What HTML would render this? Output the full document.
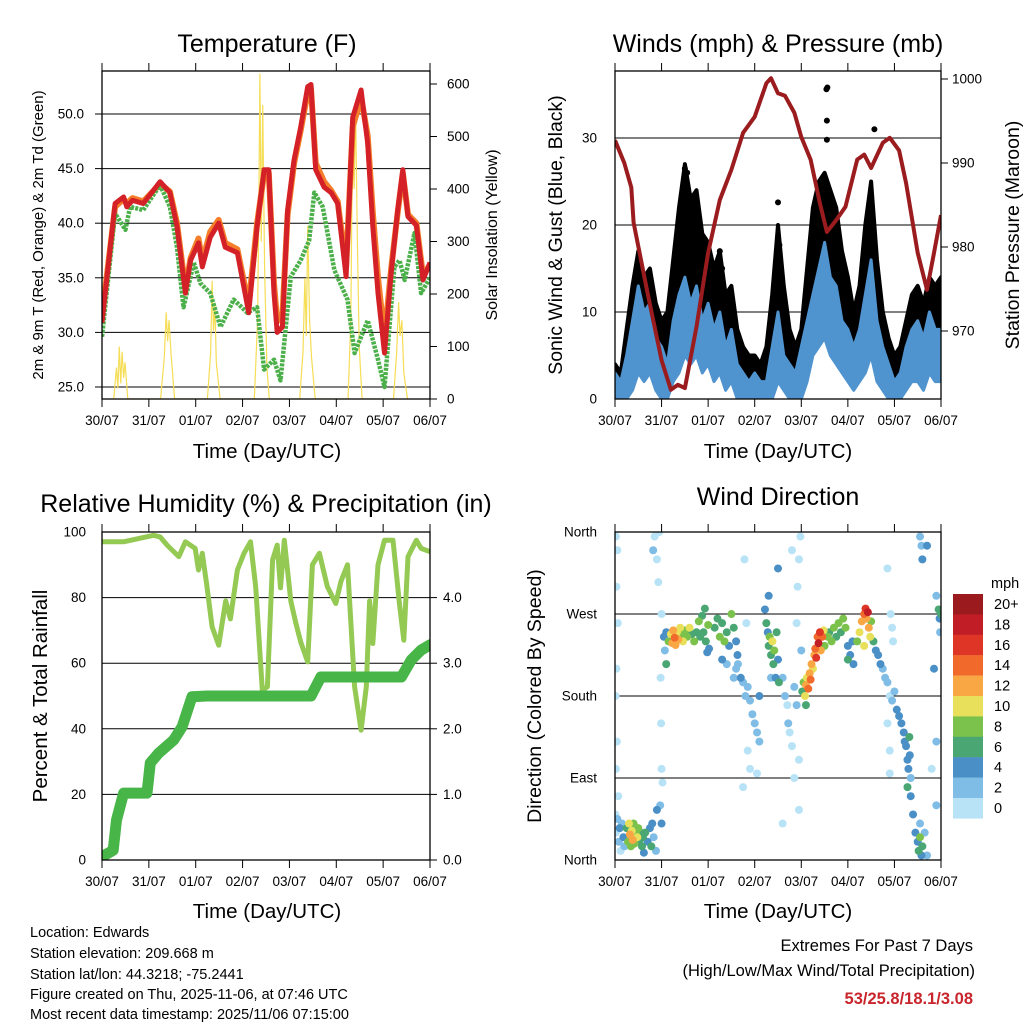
<!DOCTYPE html>
<html><head><meta charset="utf-8"><style>
html,body{margin:0;padding:0;background:#fff;}
svg{display:block;font-family:"Liberation Sans",Arial,sans-serif;}
</style></head><body>
<svg id="c" width="1024" height="1024" viewBox="0 0 1024 1024" xmlns="http://www.w3.org/2000/svg">
<defs>
<clipPath id="cp1"><rect x="102" y="71" width="328" height="328"/></clipPath>
<clipPath id="cp2"><rect x="615" y="71" width="326" height="328"/></clipPath>
<clipPath id="cp3"><rect x="102" y="532" width="328" height="328"/></clipPath>
<clipPath id="cp4"><rect x="615" y="532" width="326" height="328"/></clipPath>
</defs>
<g id="g1"></g>
<g id="g2"></g>
<g id="g3"></g>
<g id="g4"></g>
<g font-size="25" text-anchor="middle" fill="#000">
<text x="267" y="52">Temperature (F)</text>
<text x="778" y="52">Winds (mph) &amp; Pressure (mb)</text>
<text x="266" y="512">Relative Humidity (%) &amp; Precipitation (in)</text>
<text x="778" y="505">Wind Direction</text>
</g>
<g font-size="20.5" text-anchor="middle">
<text x="267" y="458">Time (Day/UTC)</text>
<text x="778" y="458">Time (Day/UTC)</text>
<text x="267" y="918">Time (Day/UTC)</text>
<text x="778" y="918">Time (Day/UTC)</text>
<text transform="translate(43,235) rotate(-90)" font-size="15">2m &amp; 9m T (Red, Orange) &amp; 2m Td (Green)</text>
<text transform="translate(497,235) rotate(-90)" font-size="16">Solar Insolation (Yellow)</text>
<text transform="translate(562,235) rotate(-90)" font-size="19.5">Sonic Wind &amp; Gust (Blue, Black)</text>
<text transform="translate(1019,235) rotate(-90)" font-size="19.5">Station Pressure (Maroon)</text>
<text transform="translate(47,696) rotate(-90)" font-size="20.5">Percent &amp; Total Rainfall</text>
<text transform="translate(541,696) rotate(-90)" font-size="19.5">Direction (Colored By Speed)</text>
</g>
<g font-size="14.5" fill="#000">
<text x="30" y="937">Location: Edwards</text>
<text x="30" y="958">Station elevation: 209.668 m</text>
<text x="30" y="979">Station lat/lon: 44.3218; -75.2441</text>
<text x="30" y="999">Figure created on Thu, 2025-11-06, at 07:46 UTC</text>
<text x="30" y="1019">Most recent data timestamp: 2025/11/06 07:15:00</text>
</g>
<g font-size="16.5" text-anchor="end">
<text x="973" y="951">Extremes For Past 7 Days</text>
<text x="975" y="976">(High/Low/Max Wind/Total Precipitation)</text>
<text x="973" y="1004" font-weight="bold" fill="#c9252c">53/25.8/18.1/3.08</text>
</g>
</svg>
<script>
// ---------- data ----------
const dayLabels=["30/07","31/07","01/07","02/07","03/07","04/07","05/07","06/07"];
const tempTimes=[0,0.28,0.46,0.53,0.65,0.88,1.24,1.45,1.6,1.78,1.89,2.06,2.14,2.31,2.49,2.63,2.89,3.13,3.31,3.46,3.56,3.67,3.74,3.85,3.96,4.1,4.24,4.39,4.46,4.56,4.74,4.89,5.03,5.21,5.35,5.53,5.67,5.78,5.89,6.03,6.17,6.31,6.42,6.53,6.71,6.85,7.0];
const tempVals=[30.9,41.8,42.4,41.5,42.1,41.8,43.8,42.8,39.7,33.6,36.6,38.2,36,38.7,40,37.8,37.3,31.8,39.7,44.9,44.9,33.6,30,30.5,41.2,45.8,48.8,52.5,52.7,44.9,43.3,42.8,41.8,35.1,49.7,52.2,47.3,39.7,33.6,28.1,35.4,41.2,44.9,40.6,39.8,34.8,36.4];
const temp9Vals=[31.5,41.5,42.2,41.8,42.3,42,43.6,42.9,40,34,36.8,38.6,36.5,39.2,40.3,38.2,37.6,32.5,40,44.5,44.6,34.5,31,31.5,40.8,45.5,48.5,52,52.3,45.5,43.8,43,42,36,48.8,51.5,48,41,35,29.5,35.8,41,44.6,40.8,40,35.2,36.2];
const dewTimes=[0,0.28,0.5,0.6,0.88,1.24,1.45,1.6,1.74,1.96,2.1,2.31,2.53,2.81,3.1,3.31,3.46,3.67,3.81,4.03,4.24,4.42,4.53,4.71,4.96,5.24,5.39,5.67,5.89,6.03,6.24,6.35,6.46,6.67,6.81,7.0];
const dewVals=[29.6,40.9,39.4,41.5,41.2,43.5,41.5,37.8,32.3,36.4,34.5,33.6,30.5,33,31.8,32.3,26.6,27.5,25.6,35.1,36.6,38.4,42.8,41.5,35.7,33,28.1,31.1,27.5,25,36,36.6,34.8,39.1,33.6,35];
const solarTimes=[0.25,0.31,0.34,0.37,0.4,0.43,0.46,0.49,0.55,1.25,1.33,1.37,1.4,1.43,1.47,1.55,2.25,2.32,2.35,2.38,2.41,2.44,2.52,3.25,3.32,3.35,3.37,3.4,3.43,3.47,3.52,3.57,4.22,4.29,4.33,4.36,4.39,4.43,4.47,4.55,5.25,5.31,5.35,5.38,5.41,5.45,5.49,5.55,6.22,6.29,6.33,6.36,6.4,6.44,6.52];
const solarVals=[0,60,20,100,30,90,40,70,0,0,80,165,110,150,90,0,0,90,225,130,180,70,0,0,150,400,620,300,560,250,60,0,0,90,230,120,330,150,80,0,0,150,540,400,560,300,100,0,0,90,185,120,150,50,0];

const windTimes=[0,0.125,0.25,0.375,0.5,0.625,0.75,0.875,1,1.125,1.25,1.375,1.5,1.625,1.75,1.875,2,2.125,2.25,2.375,2.5,2.625,2.75,2.875,3,3.125,3.25,3.375,3.5,3.625,3.75,3.875,4,4.125,4.25,4.375,4.5,4.625,4.75,4.875,5,5.125,5.25,5.375,5.5,5.625,5.75,5.875,6,6.125,6.25,6.375,6.5,6.625,6.75,6.875,7];
const windHi=[3,2,5,9,13,10,11,7,6,4,9,12,14,11,13,9,11,8,10,6,8,4,3,2,3,2,2,6,10,5,4,3,6,9,12,15,18,14,13,9,8,6,8,12,16,9,6,4,2,3,6,8,9,7,10,8,8];
const windLo=[0,0,0,1,3,2,3,1,0,0,2,3,5,4,5,3,4,2,3,1,2,0,0,0,0,0,0,0,2,1,0,0,0,2,5,6,7,5,4,3,2,1,2,3,5,2,1,0,0,0,1,2,2,1,3,2,2];
const gustHi=[4,3,8,13,17,14,15,11,9,10,16,22,27,23,24,19,18,15,17,12,13,8,6,5,5,4,6,12,20,13,8,6,8,15,22,25,26,24,22,17,14,10,13,20,25,16,10,7,5,6,9,12,13,11,14,13,14];
const gustLo=[0,0,1,3,5,4,5,2,1,1,5,7,10,8,9,6,6,4,5,2,4,1,1,0,0,0,1,2,5,2,1,0,1,4,8,9,10,8,7,5,4,2,4,6,8,4,3,1,0,0,2,3,4,2,4,4,5];
const gustOutT=[3.5,3.53,4.54,4.56,4.55,4.55,5.57,1.5,1.55,2.25,2.3];
const gustOutV=[22.6,17.7,35.6,35.8,32,29.8,31,26.5,26,17,15];
const presTimes=[0,0.2,0.35,0.4,0.7,1.0,1.2,1.35,1.5,1.75,2.0,2.25,2.5,2.75,3.0,3.25,3.35,3.5,3.65,3.85,4.0,4.2,4.4,4.55,4.75,4.95,5.2,5.35,5.5,5.75,5.9,6.1,6.25,6.5,6.7,6.85,7.0];
const presVals=[992.7,990,987.1,982.9,974.5,966.5,963,963.6,963.2,970.5,979.3,985.6,989.2,993.6,995.5,999.5,1000.1,998.3,998,996,993.1,990.4,985.2,981.8,983.2,984.8,990.4,991,989.4,992.4,993,991.5,987.6,979.3,974.9,979.3,983.8];

const rhTimes=[0,0.46,1.1,1.24,1.39,1.64,1.78,1.99,2.06,2.14,2.24,2.35,2.49,2.64,2.74,2.89,3.03,3.17,3.28,3.42,3.53,3.64,3.74,3.81,3.89,4.03,4.14,4.24,4.39,4.49,4.64,4.81,4.99,5.1,5.24,5.39,5.53,5.64,5.71,5.78,5.89,6.03,6.21,6.35,6.44,6.53,6.71,6.81,7.0];
const rhVals=[97,97,99,98.5,96,92.5,97,95,88.4,93.5,83.3,71.1,65.5,79,73.5,88.4,93.5,97,83.3,51.8,52.8,91.5,96,83,97.5,79,72,66.5,60.4,90,93.5,83.3,78.2,85,90,52.8,39.6,52.8,79,66,90,97.5,97.5,78,67,92.5,97.5,95,94];
const rainTimes=[0,0.24,0.31,0.46,0.96,1.03,1.21,1.53,1.71,1.92,2.24,4.46,4.67,6.39,6.6,6.81,7.0];
const rainVals=[0.05,0.15,0.61,1.02,1.02,1.48,1.63,1.83,2.03,2.49,2.5,2.5,2.79,2.79,3.05,3.2,3.28];

// wind direction observations: [day, degrees, mph]
const dirObs=[[0.02,30,0],[0.05,45,2],[0.08,20,2],[0.1,35,4],[0.12,10,1],[0.15,40,3],[0.18,25,4],[0.2,15,2],[0.25,35,6],[0.28,20,8],[0.3,40,10],[0.32,28,12],[0.34,15,9],[0.36,32,10],[0.38,22,12],[0.4,40,8],[0.42,18,9],[0.45,30,8],[0.48,25,10],[0.5,35,8],[0.52,20,6],[0.55,30,7],[0.58,15,6],[0.6,25,6],[0.62,8,4],[0.65,30,6],[0.7,20,5],[0.75,35,4],[0.78,15,6],[0.8,40,4],[0.83,25,3],[0.88,10,2],[0.9,55,4],
[0.02,355,0],[0.05,340,0],[0.03,300,1],[0.06,260,0],[0.03,210,1],[0.01,180,0],[0.04,130,0],[0.02,100,1],[0.07,70,0],[0.01,50,1],
[0.82,340,2],[0.85,355,1],[0.95,360,0],[0.9,330,1],[0.93,305,0],[1.0,270,1],[0.98,200,0],[0.99,150,0],[1.0,100,0],[1.02,85,1],[0.97,60,2],[1.0,40,4],
[1.05,245,4],[1.07,230,3],[1.1,215,6],[1.1,250,4],[1.15,240,8],[1.2,248,10],[1.23,238,12],[1.25,252,13],[1.28,244,14],[1.3,236,12],[1.33,250,10],[1.36,242,13],[1.4,255,10],[1.43,247,8],[1.46,240,10],[1.5,252,9],[1.55,245,8],[1.6,255,10],[1.65,248,7],[1.7,240,8],[1.75,250,6],[1.8,262,8],[1.83,245,6],[1.87,268,6],[1.9,250,7],[1.95,240,6],[1.98,228,4],[2.0,258,8],[1.93,276,6],[2.02,232,4],
[2.14,255,6],[2.2,265,7],[2.25,245,8],[2.3,260,6],[2.35,240,8],[2.4,250,6],[2.45,235,4],[2.5,270,8],[2.55,255,6],[2.6,240,5],[2.63,225,4],[2.3,220,4],[2.4,215,3],[2.55,200,2],[2.6,210,3],
[2.64,215,2],[2.7,200,4],[2.75,195,2],[2.8,180,2],[2.85,190,3],[2.9,175,2],[2.95,160,2],[3.0,150,2],[3.05,140,2],[3.1,130,2],[3.1,180,4],[2.85,120,0],[2.9,100,0],[2.75,80,1],[3.05,95,1],[2.78,330,0],[2.82,260,1],
[3.22,275,4],[3.25,260,6],[3.28,250,4],[3.3,235,6],[3.32,245,8],[3.35,225,6],[3.38,240,10],[3.4,215,6],[3.42,230,8],[3.45,200,4],[3.47,250,6],[3.5,220,4],[3.52,195,6],[3.3,290,4],[3.35,200,2],
[3.6,200,2],[3.65,180,2],[3.7,170,0],[3.72,150,2],[3.75,140,0],[3.8,125,0],[3.85,190,2],[3.9,170,2],[3.95,110,0],[3.9,260,0],[3.92,300,0],[3.95,330,0],[3.98,355,0],[3.8,340,1],[3.85,90,0],[3.6,40,1],[3.95,55,0],[3.5,320,4],
[4.02,185,6],[4.05,195,8],[4.08,180,10],[4.1,192,12],[4.12,200,10],[4.15,188,14],[4.18,205,12],[4.2,198,14],[4.22,215,12],[4.25,210,10],[4.28,225,12],[4.3,232,14],[4.32,222,16],[4.35,245,14],[4.37,238,18],[4.4,250,16],[4.42,230,12],[4.45,245,14],[4.48,252,10],[4.5,235,8],[4.0,230,2],[4.1,170,6],
[4.57,245,8],[4.6,250,6],[4.65,240,8],[4.7,255,8],[4.75,245,6],[4.8,260,8],[4.85,250,6],[4.9,265,8],[4.95,255,8],[5.0,235,4],[5.05,225,4],[5.1,240,4],[5.12,215,4],[5.0,220,6],
[5.2,240,8],[5.25,250,10],[5.3,262,12],[5.35,270,14],[5.38,276,16],[5.4,265,12],[5.43,272,18],[5.45,255,12],[5.48,245,10],[5.5,262,8],[5.55,240,6],[5.35,235,10],
[5.6,230,4],[5.65,225,4],[5.7,215,4],[5.75,210,2],[5.8,200,2],[5.85,195,2],[5.9,180,0],[5.95,175,2],[6.0,185,2],[6.05,165,4],[6.1,158,4],[5.92,270,0],[5.95,255,1],[5.97,240,0],[5.85,150,0],[5.9,120,1],[5.85,320,0],[5.9,95,0],
[6.15,150,4],[6.2,140,4],[6.22,130,4],[6.25,125,4],[6.28,110,4],[6.3,100,4],[6.32,135,6],[6.35,90,2],[6.33,115,4],[6.28,80,6],
[6.35,70,4],[6.4,50,4],[6.45,30,4],[6.5,20,4],[6.52,10,6],[6.55,25,8],[6.58,5,4],[6.6,15,6],[6.55,40,2],[6.65,30,2],[6.7,5,2],
[6.55,355,2],[6.58,345,2],[6.6,330,4],[6.7,345,4],[6.9,290,2],[6.95,275,6],[6.97,265,4],[7.0,270,6],[6.98,250,2],[6.85,210,4],[6.9,130,2],[6.8,100,0],[6.9,60,2]];

const speedLabels=["20+","18","16","14","12","10","8","6","4","2","0"];
const speedColors=["#9a1a1e","#c11d26","#de3527","#f26a2b","#f9a745","#e8e05a","#7bc24c","#4aa673","#4a8fc6","#80bde6","#b8e3f7"];
const tempTicks=[25,30,35,40,45,50];
const solarTicks=[0,100,200,300,400,500,600];
const windTicks=[0,10,20,30];
const presTicks=[970,980,990,1000];
const rhTicks=[0,20,40,60,80,100];
const rainTicks=[0,1,2,3,4];
const dirTicks=[0,90,180,270,360];
const dirTickLabels=["North","East","South","West","North"];

// ---------- helpers ----------
const NS="http://www.w3.org/2000/svg";
function mk(parent,tag,attrs){const e=document.createElementNS(NS,tag);for(const k in attrs)e.setAttribute(k,attrs[k]);parent.appendChild(e);return e;}
const P={1:{x0:102,x1:430,y0:71,y1:399},2:{x0:615,x1:941,y0:71,y1:399},3:{x0:102,x1:430,y0:532,y1:860},4:{x0:615,x1:941,y0:532,y1:860}};
function xs(p){return d=>P[p].x0+d*(P[p].x1-P[p].x0)/7;}
const yTemp=v=>387-(v-25)*10.92, ySolar=v=>399-v*0.525;
const yWind=v=>399-v*8.7, yPres=v=>79+(1000-v)*8.4;
const yRH=v=>860-v*3.28, yRain=v=>860-v*65.6;
const yDir=v=>860-v*0.911;
function pts(ts,vs,fx,fy){return ts.map((t,i)=>fx(t).toFixed(1)+","+fy(vs[i]).toFixed(1)).join(" ");}
function speedColor(s){let i=10-Math.min(10,Math.floor(s/2));return speedColors[i];}

function frame(g,p,hTicks,fy,lab,labX,anchor){
  const b=P[p];
  hTicks.forEach((v,i)=>{
    const y=fy(v);
    const l=mk(g,"line",{x1:b.x0,x2:b.x1,y1:y,y2:y,stroke:"#000","stroke-width":1});
    
    
    const t=mk(g,"text",{x:labX,y:y+4.5,"font-size":13.5,"text-anchor":anchor});
    t.textContent=lab[i];
    
    
  });
}
function box(g,p){
  const b=P[p], fx=xs(p);
  const r=mk(g,"rect",{x:b.x0,y:b.y0,width:b.x1-b.x0,height:b.y1-b.y0,fill:"none",stroke:"#000","stroke-width":1.3});
  
  
  dayLabels.forEach((d,i)=>{
    const x=fx(i);
    mk(g,"line",{x1:x,x2:x,y1:b.y0,y2:b.y0-8,stroke:"#000"});
    mk(g,"line",{x1:x,x2:x,y1:b.y1,y2:b.y1+8,stroke:"#000"});
    const t=mk(g,"text",{x:x,y:b.y1+26,"font-size":13.5,"text-anchor":"middle"});
    t.textContent=d;
    
    
  });
}
function sideTicks(g,x,vals,fy,len){vals.forEach(v=>{mk(g,"line",{x1:x,x2:x+len,y1:fy(v),y2:fy(v),stroke:"#000"});});}

// ---------- panel 1 ----------
(function(){
  const g=document.getElementById("g1"), fx=xs(1);
  frame(g,1,tempTicks,yTemp,tempTicks.map(v=>v.toFixed(1)),84,"end");
  solarTicks.forEach(v=>{const t=mk(g,"text",{x:447,y:ySolar(v)+4.5,"font-size":13.5});t.textContent=v;});
  sideTicks(g,430,solarTicks,ySolar,7);
  sideTicks(g,102,tempTicks,yTemp,-7);
  const c=mk(g,"g",{"clip-path":"url(#cp1)"});
  const s=mk(c,"polyline",{points:pts(solarTimes,solarVals,fx,ySolar),fill:"none",stroke:"#f5dd55","stroke-width":1.2});
  
  const o=mk(c,"polyline",{points:pts(tempTimes,temp9Vals,fx,yTemp),fill:"none",stroke:"#f47e2a","stroke-width":6,"stroke-linejoin":"round"});
  
  const d=mk(c,"polyline",{points:pts(dewTimes,dewVals,fx,yTemp),fill:"none",stroke:"#4cb04a","stroke-width":4.5,"stroke-dasharray":"3 1.2","stroke-linejoin":"round"});
  
  const r=mk(c,"polyline",{points:pts(tempTimes,tempVals,fx,yTemp),fill:"none",stroke:"#d42027","stroke-width":5,"stroke-linejoin":"round"});
  
  box(g,1);
})();

// ---------- panel 2 ----------
(function(){
  const g=document.getElementById("g2"), fx=xs(2);
  frame(g,2,windTicks,yWind,windTicks.map(String),597,"end");
  presTicks.forEach(v=>{const t=mk(g,"text",{x:952,y:yPres(v)+4.5,"font-size":13.5});t.textContent=v;});
  sideTicks(g,941,presTicks,yPres,7);
  const c=mk(g,"g",{"clip-path":"url(#cp2)"});
  const gp=pts(windTimes,gustHi,fx,yWind)+" "+pts(windTimes.slice().reverse(),gustLo.slice().reverse(),fx,yWind);
  const gb=mk(c,"polygon",{points:gp,fill:"#000",stroke:"#000","stroke-width":4,"stroke-linejoin":"round"});
  
  gustOutT.forEach((t,i)=>{const e=mk(c,"circle",{cx:fx(t),cy:yWind(gustOutV[i]),r:3,fill:"#000"});});
  const wp=pts(windTimes,windHi,fx,yWind)+" "+pts(windTimes.slice().reverse(),windLo.slice().reverse(),fx,yWind);
  const wb=mk(c,"polygon",{points:wp,fill:"#4f93cf",stroke:"#4f93cf","stroke-width":3,"stroke-linejoin":"round"});
  
  const p=mk(c,"polyline",{points:pts(presTimes,presVals,fx,yPres),fill:"none",stroke:"#9b1c1f","stroke-width":4,"stroke-linejoin":"round"});
  
  box(g,2);
})();

// ---------- panel 3 ----------
(function(){
  const g=document.getElementById("g3"), fx=xs(3);
  frame(g,3,rhTicks,yRH,rhTicks.map(String),86,"end");
  rainTicks.forEach(v=>{const t=mk(g,"text",{x:443,y:yRain(v)+4.5,"font-size":13.5});t.textContent=v.toFixed(1);});
  sideTicks(g,430,rainTicks,yRain,7);
  const c=mk(g,"g",{"clip-path":"url(#cp3)"});
  const rh=mk(c,"polyline",{points:pts(rhTimes,rhVals,fx,yRH),fill:"none",stroke:"#94c954","stroke-width":5,"stroke-linejoin":"round"});
  
  const rn=mk(c,"polyline",{points:pts(rainTimes,rainVals,fx,yRain),fill:"none",stroke:"#48b548","stroke-width":11,"stroke-linejoin":"round","stroke-linecap":"round"});
  
  box(g,3);
})();

// ---------- panel 4 ----------
(function(){
  const g=document.getElementById("g4"), fx=xs(4);
  frame(g,4,dirTicks,yDir,dirTickLabels,597,"end");
  const c=mk(g,"g",{"clip-path":"url(#cp4)"});
  const order=dirObs.map((o,i)=>i).sort((a,b)=>dirObs[a][2]-dirObs[b][2]);
  order.forEach(i=>{
    const o=dirObs[i];
    const e=mk(c,"circle",{cx:fx(o[0]),cy:yDir(o[1]),r:4,fill:speedColor(o[2])});
    
    
  });
  box(g,4);
  const lg=mk(g,"g",{});
  
  
  const mt=mk(lg,"text",{x:991,y:588,"font-size":14.5});mt.textContent="mph";
  speedLabels.forEach((l,i)=>{
    const y=594+i*20.4;
    const r=mk(lg,"rect",{x:953,y:y,width:30,height:20.6,fill:speedColors[i]});
    
    
    const t=mk(lg,"text",{x:994,y:y+15,"font-size":14.5});t.textContent=l;
    
    
  });
})();
</script>
</body></html>
